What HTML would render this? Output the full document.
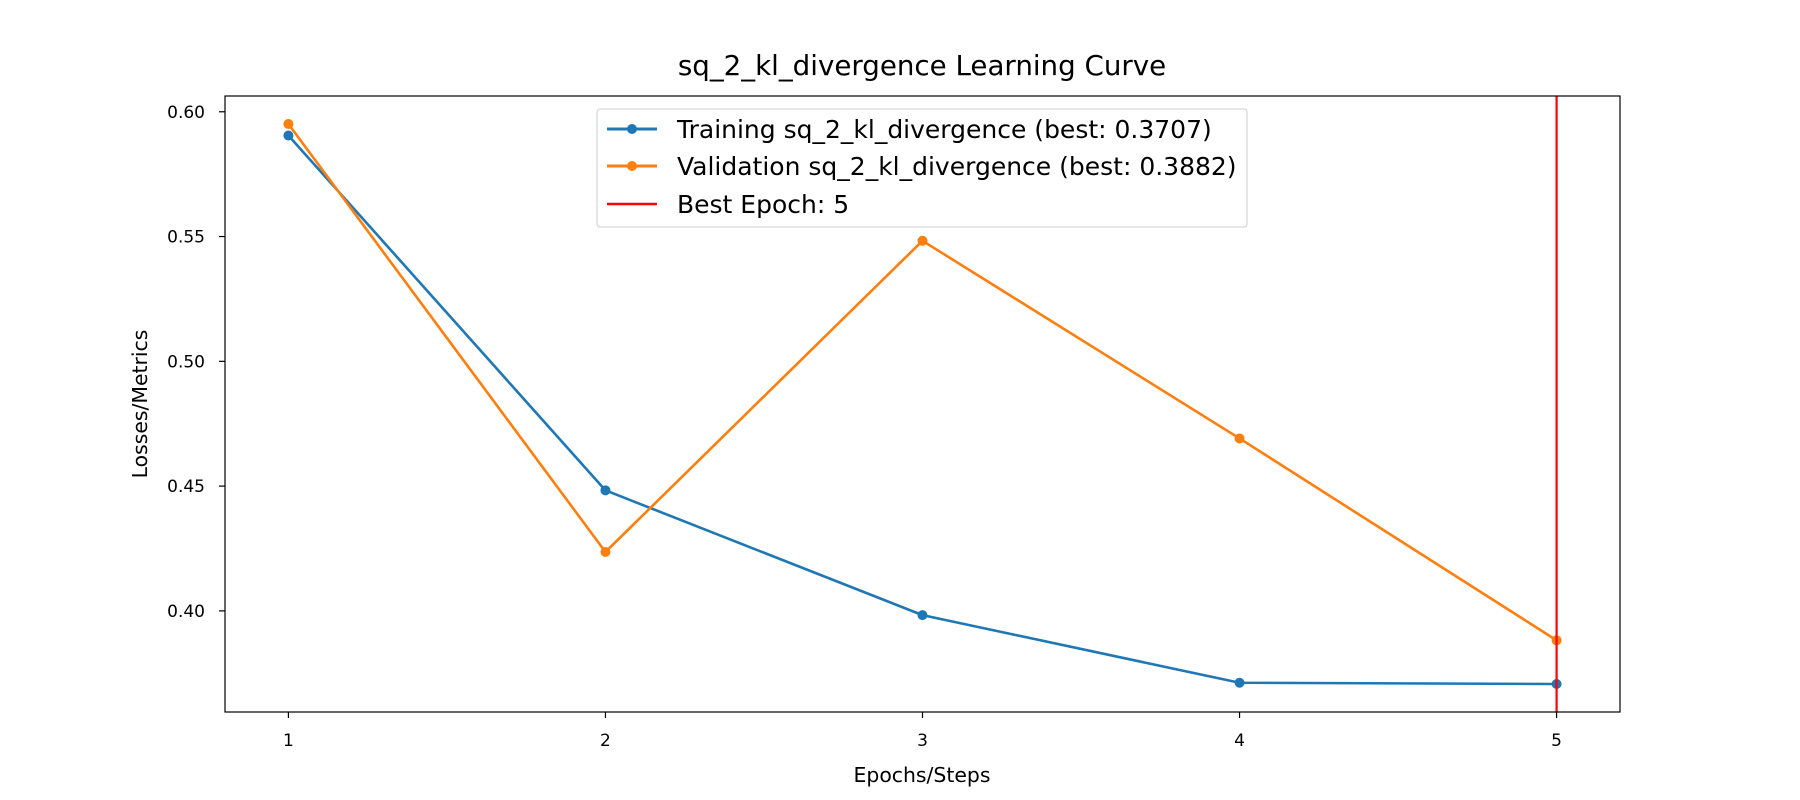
<!DOCTYPE html>
<html><head><meta charset="utf-8"><style>
html,body{margin:0;padding:0;background:#fff;}
svg{display:block;font-family:"DejaVu Sans","Liberation Sans",sans-serif;}
</style></head>
<body>
<svg id="chart" width="1800" height="800" xmlns="http://www.w3.org/2000/svg">
<rect width="1800" height="800" fill="#fff"/>
<text x="922" y="75" font-size="27.7" text-anchor="middle">sq_2_kl_divergence Learning Curve</text>
<g id="plot"></g>
<rect x="225" y="96" width="1395" height="616" fill="none" stroke="#000" stroke-width="1.2"/>
<text x="922" y="782" font-size="20.4" text-anchor="middle">Epochs/Steps</text>
<text transform="translate(147,404) rotate(-90)" font-size="20.4" text-anchor="middle">Losses/Metrics</text>
<g>
<rect x="597" y="109" width="650" height="118" rx="3" fill="#fff" fill-opacity="0.8" stroke="#ccc" stroke-width="1"/>
<line x1="607" y1="129" x2="657" y2="129" stroke="#1f77b4" stroke-width="3"/><circle cx="632" cy="129" r="5" fill="#1f77b4"/>
<text x="677" y="138" font-size="25">Training sq_2_kl_divergence (best: 0.3707)</text>
<line x1="607" y1="166" x2="657" y2="166" stroke="#ff7f0e" stroke-width="3"/><circle cx="632" cy="166" r="5" fill="#ff7f0e"/>
<text x="677" y="175" font-size="25">Validation sq_2_kl_divergence (best: 0.3882)</text>
<line x1="607" y1="204" x2="657" y2="204" stroke="#ff0000" stroke-width="2.5"/>
<text x="677" y="213" font-size="25">Best Epoch: 5</text>
</g>
</svg>
<script>
const epochs = [1, 2, 3, 4, 5];
const trainValues = [0.5905, 0.4483, 0.3983, 0.3712, 0.3707];
const valValues = [0.5951, 0.4236, 0.5483, 0.4691, 0.3882];
const yTicks = [0.40, 0.45, 0.50, 0.55, 0.60];
const xTicks = [1, 2, 3, 4, 5];
const bestEpoch = 5;

const NS = "http://www.w3.org/2000/svg";
const L = 225, R = 1620, T = 96, B = 712;
const xMin = Math.min(...epochs), xMax = Math.max(...epochs);
const xPad = (xMax - xMin) * 0.05;
const allY = trainValues.concat(valValues);
const yMin0 = Math.min(...allY), yMax0 = Math.max(...allY);
const yPad = (yMax0 - yMin0) * 0.05;
function xs(v) { return L + (v - (xMin - xPad)) / ((xMax + xPad) - (xMin - xPad)) * (R - L); }
function ys(v) { return B - (v - (yMin0 - yPad)) / ((yMax0 + yPad) - (yMin0 - yPad)) * (B - T); }
const g = document.getElementById('plot');
function mk(tag, attrs) { const e = document.createElementNS(NS, tag); for (const k in attrs) e.setAttribute(k, attrs[k]); g.appendChild(e); return e; }

xTicks.forEach(t => {
  const ln = mk('line', {x1: xs(t), x2: xs(t), y1: B, y2: B + 6, stroke: '#000', 'stroke-width': 1.2});
  
  
  const tx = mk('text', {x: xs(t), y: B + 34, 'font-size': 17, 'text-anchor': 'middle'});
  tx.textContent = t;
  
  
});
yTicks.forEach(t => {
  const ln = mk('line', {x1: L - 6, x2: L, y1: ys(t), y2: ys(t), stroke: '#000', 'stroke-width': 1.2});
  
  
  const tx = mk('text', {x: L - 20, y: ys(t) + 6, 'font-size': 17, 'text-anchor': 'end'});
  tx.textContent = t.toFixed(2);
  
  
});

function series(vals, color, name) {
  const pts = vals.map((v, i) => xs(epochs[i]) + ',' + ys(v)).join(' ');
  const pl = mk('polyline', {points: pts, fill: 'none', stroke: color, 'stroke-width': 2.6, 'stroke-linejoin': 'round'});
  
  
  vals.forEach((v, i) => {
    const c = mk('circle', {cx: xs(epochs[i]), cy: ys(v), r: 5, fill: color});
    
    
  });
}
series(trainValues, '#1f77b4', 'training');
series(valValues, '#ff7f0e', 'validation');
const bl = mk('line', {x1: xs(bestEpoch), x2: xs(bestEpoch), y1: T, y2: B, stroke: '#ff0000', 'stroke-width': 2.2});


</script>
</body></html>
